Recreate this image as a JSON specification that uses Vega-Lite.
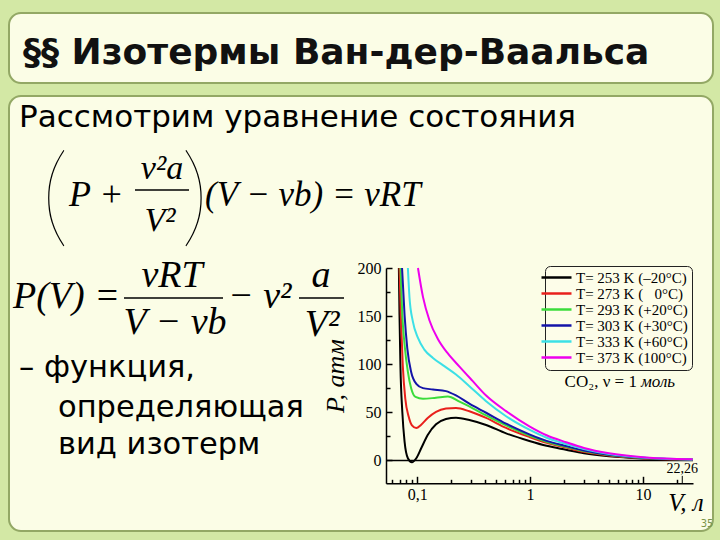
{
  "$schema": "https://vega.github.io/schema/vega-lite/v6.json",
  "background": "#d3e8a5",
  "padding": {"left": 8, "top": 12, "right": 8, "bottom": 9},
  "spacing": 11,
  "config": {
    "view": {"fill": "#fbfde6", "stroke": "#93a865", "strokeWidth": 2, "cornerRadius": 12},
    "text": {"color": "black"}
  },
  "datasets": {
    "iso": [
      {"T":253,"V":0.0689,"P":200},{"T":253,"V":0.0698,"P":151},{"T":253,"V":0.0711,"P":99},{"T":253,"V":0.0739,"P":50.7},{"T":253,"V":0.0774,"P":19.5},{"T":253,"V":0.0828,"P":2.3},{"T":253,"V":0.0899,"P":-1.9},{"T":253,"V":0.0983,"P":2.3},{"T":253,"V":0.1086,"P":12.7},{"T":253,"V":0.124,"P":26.5},{"T":253,"V":0.147,"P":37.6},{"T":253,"V":0.18,"P":43.1},{"T":253,"V":0.221,"P":44.5},{"T":253,"V":0.29,"P":42.1},{"T":253,"V":0.408,"P":36.9},{"T":253,"V":0.613,"P":28.2},{"T":253,"V":0.986,"P":20.3},{"T":253,"V":1.4,"P":15.3},{"T":253,"V":2.08,"P":11.2},{"T":253,"V":3,"P":7.6},{"T":253,"V":5,"P":4.4},{"T":253,"V":10,"P":2.1},{"T":253,"V":20,"P":1.0},{"T":253,"V":27.5,"P":0.75},
      {"T":273,"V":0.0698,"P":200},{"T":273,"V":0.0717,"P":151},{"T":273,"V":0.0746,"P":99},{"T":273,"V":0.0785,"P":64.4},{"T":273,"V":0.0841,"P":45.8},{"T":273,"V":0.09,"P":36.6},{"T":273,"V":0.0983,"P":33.8},{"T":273,"V":0.1086,"P":37.2},{"T":273,"V":0.124,"P":44.1},{"T":273,"V":0.147,"P":50.5},{"T":273,"V":0.18,"P":53.9},{"T":273,"V":0.221,"P":54.6},{"T":273,"V":0.29,"P":51.1},{"T":273,"V":0.408,"P":44.2},{"T":273,"V":0.613,"P":33.8},{"T":273,"V":0.986,"P":24.4},{"T":273,"V":1.4,"P":18.3},{"T":273,"V":2.08,"P":13.4},{"T":273,"V":3,"P":9.0},{"T":273,"V":5,"P":5.2},{"T":273,"V":10,"P":2.4},{"T":273,"V":20,"P":1.15},{"T":273,"V":27.5,"P":0.85},
      {"T":293,"V":0.0712,"P":200},{"T":293,"V":0.0739,"P":151},{"T":293,"V":0.078,"P":116.5},{"T":293,"V":0.0828,"P":92},{"T":293,"V":0.0885,"P":75},{"T":293,"V":0.0967,"P":66},{"T":293,"V":0.1126,"P":64.1},{"T":293,"V":0.147,"P":65.2},{"T":293,"V":0.187,"P":66.4},{"T":293,"V":0.237,"P":61.1},{"T":293,"V":0.311,"P":54.2},{"T":293,"V":0.408,"P":46.8},{"T":293,"V":0.613,"P":36.4},{"T":293,"V":0.986,"P":25.9},{"T":293,"V":1.4,"P":19.5},{"T":293,"V":2.08,"P":14.3},{"T":293,"V":3,"P":9.8},{"T":293,"V":5,"P":5.6},{"T":293,"V":10,"P":2.6},{"T":293,"V":20,"P":1.25},{"T":293,"V":27.5,"P":0.9},
      {"T":303,"V":0.0735,"P":200},{"T":303,"V":0.0774,"P":151},{"T":303,"V":0.0818,"P":116.5},{"T":303,"V":0.0885,"P":92},{"T":303,"V":0.0983,"P":79.7},{"T":303,"V":0.1126,"P":75.2},{"T":303,"V":0.138,"P":73.8},{"T":303,"V":0.18,"P":72.1},{"T":303,"V":0.221,"P":67.6},{"T":303,"V":0.29,"P":59},{"T":303,"V":0.408,"P":49.6},{"T":303,"V":0.613,"P":38.2},{"T":303,"V":0.986,"P":27.2},{"T":303,"V":1.4,"P":20.4},{"T":303,"V":2.08,"P":15.0},{"T":303,"V":3,"P":10.4},{"T":303,"V":5,"P":6.0},{"T":303,"V":10,"P":2.8},{"T":303,"V":20,"P":1.3},{"T":303,"V":27.5,"P":0.95},
      {"T":333,"V":0.0828,"P":200},{"T":333,"V":0.0856,"P":169},{"T":333,"V":0.0916,"P":144.6},{"T":333,"V":0.1017,"P":127.3},{"T":333,"V":0.1158,"P":115.2},{"T":333,"V":0.138,"P":106.6},{"T":333,"V":0.174,"P":98},{"T":333,"V":0.221,"P":89.3},{"T":333,"V":0.29,"P":77.2},{"T":333,"V":0.408,"P":61.6},{"T":333,"V":0.613,"P":46},{"T":333,"V":0.986,"P":32.0},{"T":333,"V":1.4,"P":23.6},{"T":333,"V":2.08,"P":17.2},{"T":333,"V":3,"P":11.8},{"T":333,"V":5,"P":6.8},{"T":333,"V":10,"P":3.1},{"T":333,"V":20,"P":1.45},{"T":333,"V":27.5,"P":1.05},
      {"T":373,"V":0.1017,"P":200},{"T":373,"V":0.1126,"P":170},{"T":373,"V":0.1286,"P":145.5},{"T":373,"V":0.153,"P":126},{"T":373,"V":0.187,"P":111.2},{"T":373,"V":0.237,"P":97.5},{"T":373,"V":0.311,"P":82.4},{"T":373,"V":0.408,"P":67.5},{"T":373,"V":0.613,"P":51.3},{"T":373,"V":0.986,"P":35.5},{"T":373,"V":1.4,"P":26.2},{"T":373,"V":2.08,"P":19.0},{"T":373,"V":3,"P":13.0},{"T":373,"V":5,"P":7.5},{"T":373,"V":10,"P":3.4},{"T":373,"V":20,"P":1.6},{"T":373,"V":27.5,"P":1.15}
    ],
    "mark2226": [{"V": 22.26, "lab": "22,26"}],
    "one": [{}]
  },
  "vconcat": [
    {
      "width": 704,
      "height": 70,
      "data": {"values": [{"t": "§§ Изотермы Ван-дер-Ваальса"}]},
      "mark": {"type": "text", "align": "left", "baseline": "alphabetic", "font": "DejaVu Sans", "fontWeight": "bold", "fontSize": 36, "color": "#111111"},
      "encoding": {
        "text": {"field": "t"},
        "x": {"datum": 14, "type": "quantitative", "scale": {"domain": [0, 704], "range": [0, 704], "nice": false, "zero": false}, "axis": null},
        "y": {"datum": 51, "type": "quantitative", "scale": {"domain": [0, 70], "range": [0, 70], "nice": false, "zero": false}, "axis": null}
      }
    },
    {
      "width": 704,
      "height": 435,
      "resolve": {"scale": {"x": "independent", "y": "independent"}},
      "layer": [
        {
          "layer": [
            {
              "data": {"name": "one"},
              "mark": {"type": "rule", "color": "black", "strokeWidth": 1.5},
              "encoding": {
                "x": {"datum": 0.053, "type": "quantitative"},
                "x2": {"datum": 27.7},
                "y": {"datum": 0, "type": "quantitative"}
              }
            },
            {
              "data": {"name": "iso"},
              "mark": {"type": "line", "interpolate": "monotone", "strokeWidth": 2},
              "encoding": {
                "x": {
                  "field": "V", "type": "quantitative",
                  "scale": {"type": "log", "domain": [0.053, 27.7], "range": [377, 684], "nice": false},
                  "axis": {
                    "orient": "bottom", "offset": -47.7, "title": null, "grid": false,
                    "values": [0.06,0.07,0.08,0.09,0.1,0.2,0.3,0.4,0.5,0.6,0.7,0.8,0.9,1,2,3,4,5,6,7,8,9,10,20],
                    "labelExpr": "datum.value == 0.1 ? '0,1' : (datum.value == 1 ? '1' : (datum.value == 10 ? '10' : ''))",
                    "tickSize": {"condition": {"test": "datum.value == 0.1 || datum.value == 1 || datum.value == 10", "value": -7}, "value": -4},
                    "tickColor": "black", "tickWidth": 1.5, "domainColor": "black", "domainWidth": 1.5,
                    "labelFont": "Liberation Serif", "labelFontSize": 16, "labelColor": "black",
                    "labelPadding": 10, "labelFlush": false, "labelOverlap": false, "minExtent": 0
                  }
                },
                "y": {
                  "field": "P", "type": "quantitative",
                  "scale": {"domain": [-23.7, 200], "range": [387.3, 172], "zero": false, "nice": false},
                  "axis": {
                    "orient": "left", "offset": -377, "title": "P, атм", "grid": false,
                    "values": [0,25,50,75,100,125,150,175,200],
                    "labelExpr": "datum.value % 50 == 0 ? datum.label : ''",
                    "tickSize": {"condition": {"test": "datum.value % 50 == 0", "value": -6}, "value": -4},
                    "tickColor": "black", "tickWidth": 1.5, "domainColor": "black", "domainWidth": 1.5,
                    "labelFont": "Liberation Serif", "labelFontSize": 16, "labelColor": "black",
                    "labelPadding": 11, "labelFlush": false, "labelOverlap": false,
                    "titleFont": "Liberation Serif", "titleFontStyle": "italic", "titleFontWeight": "normal",
                    "titleFontSize": 26, "titleColor": "black", "titlePadding": 9, "minExtent": 0
                  }
                },
                "color": {
                  "field": "T", "type": "nominal",
                  "scale": {"domain": [253, 273, 293, 303, 333, 373], "range": ["#000000", "#e8201c", "#3bdc3b", "#1414a8", "#3ce0e6", "#ee00ee"]},
                  "legend": {
                    "orient": "none", "legendX": 536, "legendY": 253, "title": null,
                    "strokeColor": "#222222", "cornerRadius": 5, "fillColor": "#fdfde9", "padding": 4,
                    "symbolType": "M-3,0H3", "symbolSize": 100, "symbolStrokeWidth": 2.5,
                    "labelFont": "Liberation Serif", "labelFontSize": 15, "labelColor": "black",
                    "rowPadding": 0, "labelOffset": 12, "labelLimit": 300,
                    "labelExpr": "datum.label == '253' ? 'T= 253 K (–20°C)' : datum.label == '273' ? 'T= 273 K (\u00a0\u00a0\u00a00°C)' : datum.label == '293' ? 'T= 293 K (+20°C)' : datum.label == '303' ? 'T= 303 K (+30°C)' : datum.label == '333' ? 'T= 333 K (+60°C)' : 'T= 373 K (100°C)'"
                  }
                }
              }
            },
            {
              "data": {"name": "mark2226"},
              "mark": {"type": "text", "font": "Liberation Serif", "fontSize": 14, "align": "center", "baseline": "middle"},
              "encoding": {
                "x": {"field": "V", "type": "quantitative"},
                "y": {"datum": -8.8, "type": "quantitative"},
                "text": {"field": "lab"}
              }
            },
            {
              "data": {"name": "mark2226"},
              "mark": {"type": "rule", "color": "black", "strokeWidth": 1},
              "encoding": {
                "x": {"field": "V", "type": "quantitative"},
                "y": {"datum": -16, "type": "quantitative"},
                "y2": {"datum": -23.7}
              }
            },
            {
              "data": {"name": "one"},
              "mark": {"type": "text", "font": "Liberation Serif", "fontSize": 17, "align": "right", "baseline": "middle"},
              "encoding": {
                "x": {"datum": 8.83, "type": "quantitative"},
                "y": {"datum": 81.9, "type": "quantitative"},
                "text": {"value": "CO₂, ν = 1"}
              }
            },
            {
              "data": {"name": "one"},
              "mark": {"type": "text", "font": "Liberation Serif", "fontStyle": "italic", "fontSize": 17, "align": "left", "baseline": "middle"},
              "encoding": {
                "x": {"datum": 9.6, "type": "quantitative"},
                "y": {"datum": 81.9, "type": "quantitative"},
                "text": {"value": "моль"}
              }
            },
            {
              "data": {"name": "one"},
              "mark": {"type": "text", "font": "Liberation Serif", "fontStyle": "italic", "fontSize": 25, "align": "center", "baseline": "middle"},
              "encoding": {
                "x": {"datum": 24.0, "type": "quantitative"},
                "y": {"datum": -44.2, "type": "quantitative"},
                "text": {"value": "V, л"}
              }
            }
          ]
        },
        {
          "data": {"name": "one"},
          "layer": [
            {
              "mark": {"type": "text", "align": "left", "baseline": "alphabetic", "font": "DejaVu Sans", "fontSize": 31},
              "encoding": {
                "text": {"value": "Рассмотрим уравнение состояния"},
                "x": {"datum": 10, "type": "quantitative", "scale": {"domain": [0, 704], "range": [0, 704], "nice": false, "zero": false}, "axis": null},
                "y": {"datum": 31, "type": "quantitative", "scale": {"domain": [0, 435], "range": [0, 435], "nice": false, "zero": false}, "axis": null}
              }
            },
            {
              "mark": {"type": "text", "align": "center", "baseline": "alphabetic", "font": "Lato", "fontWeight": 200, "fontSize": 111},
              "encoding": {
                "text": {"value": "("},
                "x": {"datum": 46, "type": "quantitative", "axis": null},
                "y": {"datum": 137.4, "type": "quantitative", "axis": null}
              }
            },
            {
              "mark": {"type": "text", "align": "center", "baseline": "alphabetic", "font": "Lato", "fontWeight": 200, "fontSize": 111},
              "encoding": {
                "text": {"value": ")"},
                "x": {"datum": 186, "type": "quantitative", "axis": null},
                "y": {"datum": 137.4, "type": "quantitative", "axis": null}
              }
            },
            {
              "mark": {"type": "text", "align": "left", "baseline": "alphabetic", "font": "Liberation Serif", "fontStyle": "italic", "fontSize": 36},
              "encoding": {
                "text": {"value": "P +"},
                "x": {"datum": 60, "type": "quantitative", "axis": null},
                "y": {"datum": 110, "type": "quantitative", "axis": null}
              }
            },
            {
              "mark": {"type": "text", "align": "center", "baseline": "alphabetic", "font": "Liberation Serif", "fontStyle": "italic", "fontSize": 34},
              "encoding": {
                "text": {"value": "ν²a"},
                "x": {"datum": 153, "type": "quantitative", "axis": null},
                "y": {"datum": 83, "type": "quantitative", "axis": null}
              }
            },
            {
              "mark": {"type": "rule", "color": "black", "strokeWidth": 1.5},
              "encoding": {
                "x": {"datum": 126, "type": "quantitative", "axis": null},
                "x2": {"datum": 180},
                "y": {"datum": 94, "type": "quantitative", "axis": null}
              }
            },
            {
              "mark": {"type": "text", "align": "center", "baseline": "alphabetic", "font": "Liberation Serif", "fontStyle": "italic", "fontSize": 34},
              "encoding": {
                "text": {"value": "V²"},
                "x": {"datum": 151, "type": "quantitative", "axis": null},
                "y": {"datum": 135, "type": "quantitative", "axis": null}
              }
            },
            {
              "mark": {"type": "text", "align": "left", "baseline": "alphabetic", "font": "Liberation Serif", "fontStyle": "italic", "fontSize": 35},
              "encoding": {
                "text": {"value": "(V − νb) = νRT"},
                "x": {"datum": 196, "type": "quantitative", "axis": null},
                "y": {"datum": 110, "type": "quantitative", "axis": null}
              }
            },
            {
              "mark": {"type": "text", "align": "left", "baseline": "alphabetic", "font": "Liberation Serif", "fontStyle": "italic", "fontSize": 38},
              "encoding": {
                "text": {"value": "P(V) ="},
                "x": {"datum": 4, "type": "quantitative", "axis": null},
                "y": {"datum": 212, "type": "quantitative", "axis": null}
              }
            },
            {
              "mark": {"type": "text", "align": "center", "baseline": "alphabetic", "font": "Liberation Serif", "fontStyle": "italic", "fontSize": 38},
              "encoding": {
                "text": {"value": "νRT"},
                "x": {"datum": 163, "type": "quantitative", "axis": null},
                "y": {"datum": 191, "type": "quantitative", "axis": null}
              }
            },
            {
              "mark": {"type": "rule", "color": "black", "strokeWidth": 1.5},
              "encoding": {
                "x": {"datum": 115, "type": "quantitative", "axis": null},
                "x2": {"datum": 214},
                "y": {"datum": 202, "type": "quantitative", "axis": null}
              }
            },
            {
              "mark": {"type": "text", "align": "center", "baseline": "alphabetic", "font": "Liberation Serif", "fontStyle": "italic", "fontSize": 38},
              "encoding": {
                "text": {"value": "V − νb"},
                "x": {"datum": 166, "type": "quantitative", "axis": null},
                "y": {"datum": 238, "type": "quantitative", "axis": null}
              }
            },
            {
              "mark": {"type": "text", "align": "left", "baseline": "alphabetic", "font": "Liberation Serif", "fontStyle": "italic", "fontSize": 38},
              "encoding": {
                "text": {"value": "− ν²"},
                "x": {"datum": 219, "type": "quantitative", "axis": null},
                "y": {"datum": 212, "type": "quantitative", "axis": null}
              }
            },
            {
              "mark": {"type": "text", "align": "center", "baseline": "alphabetic", "font": "Liberation Serif", "fontStyle": "italic", "fontSize": 38},
              "encoding": {
                "text": {"value": "a"},
                "x": {"datum": 312, "type": "quantitative", "axis": null},
                "y": {"datum": 191, "type": "quantitative", "axis": null}
              }
            },
            {
              "mark": {"type": "rule", "color": "black", "strokeWidth": 1.5},
              "encoding": {
                "x": {"datum": 290, "type": "quantitative", "axis": null},
                "x2": {"datum": 335},
                "y": {"datum": 202, "type": "quantitative", "axis": null}
              }
            },
            {
              "mark": {"type": "text", "align": "center", "baseline": "alphabetic", "font": "Liberation Serif", "fontStyle": "italic", "fontSize": 38},
              "encoding": {
                "text": {"value": "V²"},
                "x": {"datum": 313, "type": "quantitative", "axis": null},
                "y": {"datum": 240, "type": "quantitative", "axis": null}
              }
            },
            {
              "mark": {"type": "text", "align": "left", "baseline": "alphabetic", "font": "DejaVu Sans", "fontSize": 30.5},
              "encoding": {
                "text": {"value": "– функция,"},
                "x": {"datum": 10, "type": "quantitative", "axis": null},
                "y": {"datum": 281, "type": "quantitative", "axis": null}
              }
            },
            {
              "mark": {"type": "text", "align": "left", "baseline": "alphabetic", "font": "DejaVu Sans", "fontSize": 30.5},
              "encoding": {
                "text": {"value": "определяющая"},
                "x": {"datum": 49, "type": "quantitative", "axis": null},
                "y": {"datum": 321, "type": "quantitative", "axis": null}
              }
            },
            {
              "mark": {"type": "text", "align": "left", "baseline": "alphabetic", "font": "DejaVu Sans", "fontSize": 30.5},
              "encoding": {
                "text": {"value": "вид изотерм"},
                "x": {"datum": 49, "type": "quantitative", "axis": null},
                "y": {"datum": 358, "type": "quantitative", "axis": null}
              }
            },
            {
              "mark": {"type": "text", "align": "center", "baseline": "middle", "font": "DejaVu Sans", "fontSize": 10, "color": "#7a9448"},
              "encoding": {
                "text": {"value": "35"},
                "x": {"datum": 698, "type": "quantitative", "axis": null},
                "y": {"datum": 428, "type": "quantitative", "axis": null}
              }
            }
          ]
        }
      ]
    }
  ]
}
